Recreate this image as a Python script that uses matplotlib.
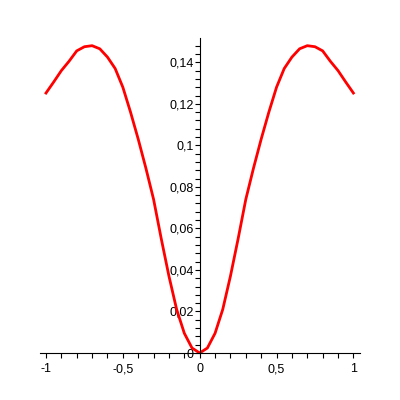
import matplotlib
matplotlib.use("Agg")
import matplotlib.pyplot as plt
from matplotlib.ticker import FixedLocator, MultipleLocator

x_values = [-1.0, -0.95, -0.9, -0.85, -0.8, -0.75, -0.7, -0.65, -0.6, -0.55, -0.5,
            -0.45, -0.4, -0.35, -0.3, -0.25, -0.2, -0.15, -0.1, -0.05, 0.0,
            0.05, 0.1, 0.15, 0.2, 0.25, 0.3, 0.35, 0.4, 0.45, 0.5,
            0.55, 0.6, 0.65, 0.7, 0.75, 0.8, 0.85, 0.9, 0.95, 1.0]
y_values = [0.1252, 0.1305, 0.136, 0.1405, 0.1455, 0.1475, 0.148, 0.1465, 0.1425, 0.137, 0.128,
            0.116, 0.103, 0.089, 0.074, 0.055, 0.037, 0.021, 0.0095, 0.0024, 0.0,
            0.0024, 0.0095, 0.021, 0.037, 0.055, 0.074, 0.089, 0.103, 0.116, 0.128,
            0.137, 0.1425, 0.1465, 0.148, 0.1475, 0.1455, 0.1405, 0.136, 0.1305, 0.1252]

x_ticks = [-1, -0.5, 0, 0.5, 1]
x_tick_labels = ["-1", "-0,5", "0", "0,5", "1"]
y_ticks = [0, 0.02, 0.04, 0.06, 0.08, 0.1, 0.12, 0.14]
y_tick_labels = ["0", "0,02", "0,04", "0,06", "0,08", "0,1", "0,12", "0,14"]

plt.rcParams['font.family'] = ['Liberation Sans', 'DejaVu Sans']

fig = plt.figure(figsize=(4, 4), dpi=100)
ax = fig.add_axes([0.1, 0.1175, 0.8, 0.7875])

ax.plot(x_values, y_values, color='#ff0000', linewidth=2.0, solid_joinstyle='round')

ax.set_xlim(-1.039, 1.043)
ax.set_ylim(0, 0.1517)

for s in ['top', 'right']:
    ax.spines[s].set_visible(False)
ax.spines['left'].set_position(('data', 0))
ax.spines['left'].set_linewidth(0.8)
ax.spines['bottom'].set_linewidth(0.8)

ax.xaxis.set_major_locator(FixedLocator(x_ticks))
ax.set_xticklabels(x_tick_labels)
ax.xaxis.set_minor_locator(MultipleLocator(0.1))
ax.yaxis.set_major_locator(FixedLocator(y_ticks))
ax.set_yticklabels(y_tick_labels)
ax.yaxis.set_minor_locator(MultipleLocator(0.004))

ax.tick_params(axis='x', which='both', direction='out', length=3.5, width=0.8,
               labelsize=9, pad=4)
ax.tick_params(axis='y', which='both', direction='out', length=3.5, width=0.8,
               labelsize=9, pad=1)

fig.savefig('out.png', dpi=100, facecolor='white')
